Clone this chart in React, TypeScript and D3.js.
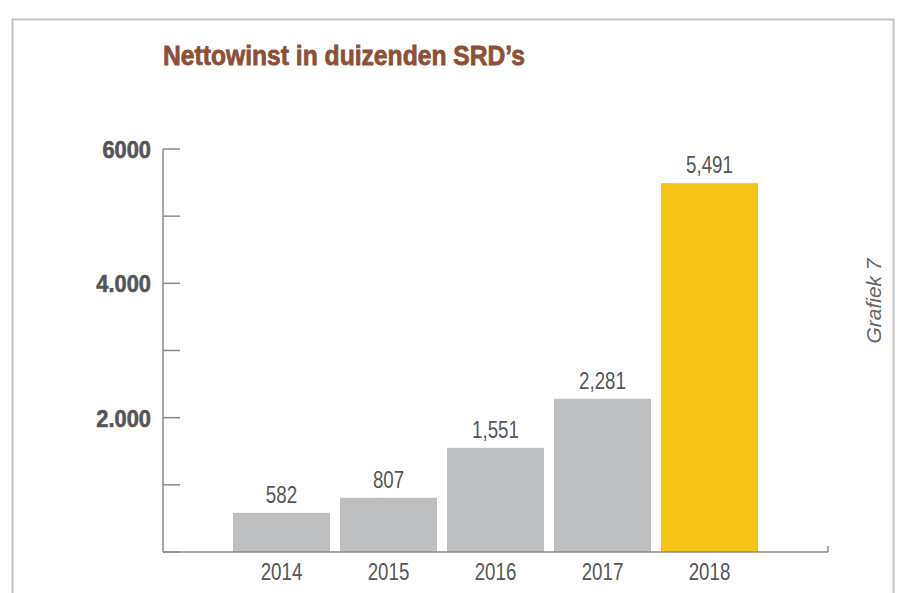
import React from "react";
import * as d3 from "d3";

const years = ["2014", "2015", "2016", "2017", "2018"];
const values = [582, 807, 1551, 2281, 5491];
const valueLabels = ["582", "807", "1,551", "2,281", "5,491"];
const tickValues = [0, 1000, 2000, 3000, 4000, 5000, 6000];
const tickLabels: Record<number, string> = { 2000: "2.000", 4000: "4.000", 6000: "6000" };

const W = 898;
const H = 593;
const font = "'Liberation Sans', Arial, sans-serif";

function CText(props: {
  x: number; y: number; sx: number; size: number; anchor?: string; weight?: string;
  fill: string; children: React.ReactNode; stroke?: number;
}) {
  return (
    <text transform={`translate(${props.x},${props.y}) scale(${props.sx},1)`} textAnchor={props.anchor || "start"}
      fill={props.fill} fontFamily={font} fontWeight={props.weight || "normal"} fontSize={props.size}
      stroke={props.stroke ? props.fill : "none"} strokeWidth={props.stroke || 0}>
      {props.children}
    </text>
  );
}

export default function App() {
  const x = d3.scaleBand<string>().domain(years).range([163, 828]).paddingInner(0.0935).paddingOuter(0.654);
  const y = d3.scaleLinear().domain([0, 6000]).range([552, 149]);
  return (
    <svg width={W} height={H} style={{ position: "absolute", left: 0, top: 0 }}>
      <rect x={0} y={0} width={W} height={H} fill="#fff" />
      <path d="M12.5,600 L12.5,19.5 L893.5,19.5 L893.5,600" fill="none" stroke="#c4c4c4" strokeWidth={2} />
      <text x={163} y={65} fill="#8c5039" stroke="#8c5039" strokeWidth={0.8} fontFamily={font} fontWeight="bold"
        fontSize={28} textLength={362} lengthAdjust="spacingAndGlyphs">
        Nettowinst in duizenden SRD’s
      </text>
      {years.map((yr, i) => (
        <rect key={yr} x={x(yr)} y={y(values[i])} width={x.bandwidth()} height={y(0) - y(values[i])}
          fill={i === years.length - 1 ? "#f5c416" : "#bebfc1"} />
      ))}
      <line x1={163} x2={163} y1={y(6000)} y2={y(0)} stroke="#8a8a8a" strokeWidth={1.5} />
      <line x1={163} x2={828} y1={y(0)} y2={y(0)} stroke="#8a8a8a" strokeWidth={1.5} />
      <line x1={828} x2={828} y1={y(0)} y2={y(0) - 6} stroke="#8a8a8a" strokeWidth={1.5} />
      {tickValues.map((t) => (
        <g key={t}>
          <line x1={163} x2={180} y1={y(t)} y2={y(t)} stroke="#8a8a8a" strokeWidth={1.5} />
          {tickLabels[t] && (
            <CText x={151} y={y(t) + 9} sx={0.95} size={23} anchor="end" weight="bold" fill="#555658" stroke={0.6}>
              {tickLabels[t]}
            </CText>
          )}
        </g>
      ))}
      {years.map((yr, i) => (
        <CText key={"v" + yr} x={(x(yr) as number) + x.bandwidth() / 2} y={y(values[i]) - 10}
          sx={0.78} size={24} anchor="middle" fill="#555658">
          {valueLabels[i]}
        </CText>
      ))}
      {years.map((yr) => (
        <CText key={"x" + yr} x={(x(yr) as number) + x.bandwidth() / 2} y={580}
          sx={0.78} size={24} anchor="middle" fill="#555658">
          {yr}
        </CText>
      ))}
      <text transform="translate(881,301) rotate(-90)" textAnchor="middle" fill="#666" fontFamily={font}
        fontStyle="italic" fontSize={21} textLength={85} lengthAdjust="spacingAndGlyphs">
        Grafiek  7
      </text>
    </svg>
  );
}
